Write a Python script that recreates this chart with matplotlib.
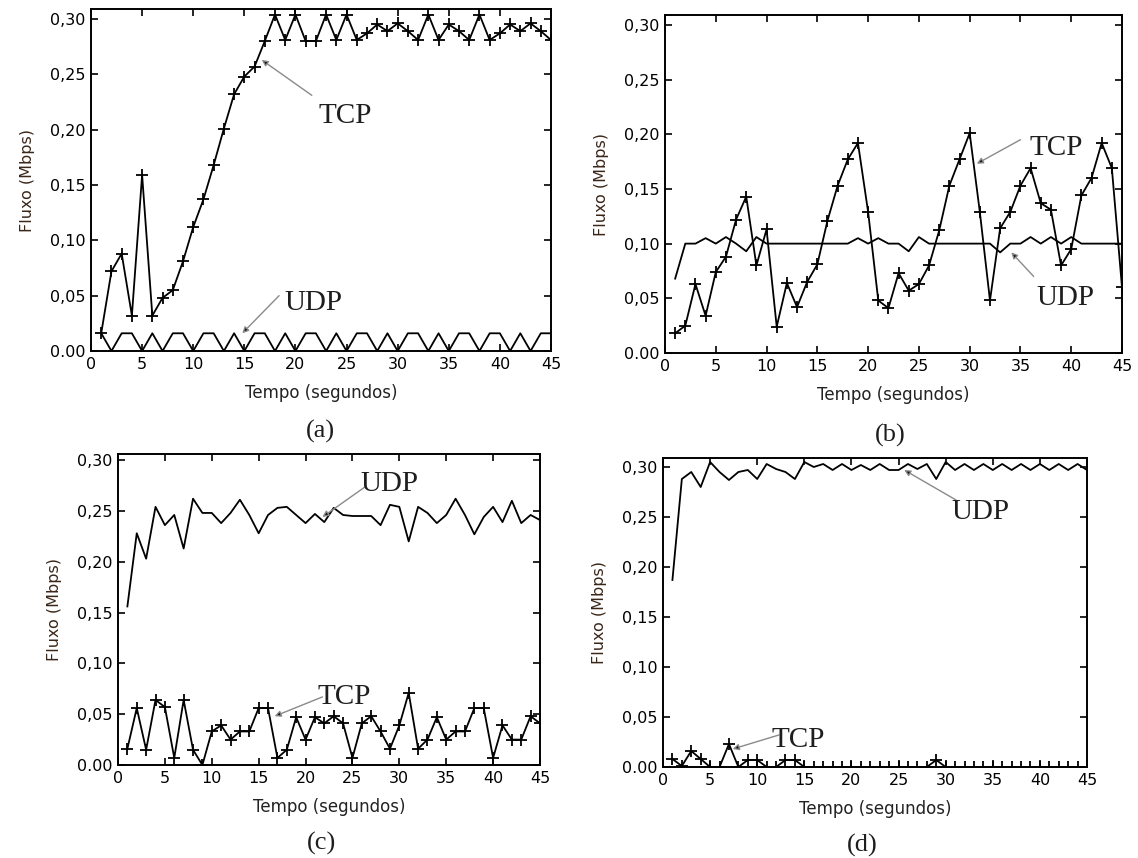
import matplotlib
matplotlib.use("Agg")
import matplotlib.pyplot as plt

# tempo (s)
tempo = list(range(1, 46))

# (a)
tcp_a = [0.016, 0.072, 0.088, 0.032, 0.159, 0.032, 0.048, 0.055, 0.081, 0.112,
         0.137, 0.168, 0.201, 0.232, 0.248, 0.257, 0.280, 0.304, 0.281, 0.304,
         0.280, 0.280, 0.304, 0.281, 0.304, 0.281, 0.287, 0.295, 0.289, 0.296,
         0.289, 0.281, 0.304, 0.281, 0.295, 0.289, 0.281, 0.304, 0.281, 0.287,
         0.295, 0.289, 0.296, 0.289, 0.281]
udp_a = [0.016, 0.0, 0.016, 0.016, 0.0, 0.016, 0.0, 0.016, 0.016, 0.0,
         0.016, 0.016, 0.0, 0.016, 0.0, 0.016, 0.016, 0.0, 0.016, 0.0,
         0.016, 0.016, 0.0, 0.016, 0.0, 0.016, 0.016, 0.0, 0.016, 0.0,
         0.016, 0.016, 0.0, 0.016, 0.0, 0.016, 0.016, 0.0, 0.016, 0.016,
         0.0, 0.016, 0.0, 0.016, 0.016]

# (b)
tcp_b = [0.018, 0.025, 0.063, 0.034, 0.074, 0.088, 0.122, 0.143, 0.080, 0.113,
         0.024, 0.064, 0.042, 0.065, 0.081, 0.121, 0.153, 0.177, 0.192, 0.129,
         0.048, 0.041, 0.073, 0.057, 0.063, 0.080, 0.112, 0.153, 0.177, 0.201,
         0.129, 0.048, 0.114, 0.129, 0.153, 0.169, 0.137, 0.131, 0.080, 0.095,
         0.144, 0.160, 0.192, 0.169, 0.060]
udp_b = [0.068, 0.100, 0.100, 0.105, 0.100, 0.106, 0.100, 0.093, 0.106, 0.100,
         0.100, 0.100, 0.100, 0.100, 0.100, 0.100, 0.100, 0.100, 0.105, 0.100,
         0.105, 0.100, 0.100, 0.093, 0.106, 0.100, 0.100, 0.100, 0.100, 0.100,
         0.100, 0.100, 0.092, 0.100, 0.100, 0.106, 0.100, 0.106, 0.100, 0.106,
         0.100, 0.100, 0.100, 0.100, 0.100]

# (c)
tcp_c = [0.016, 0.056, 0.015, 0.064, 0.057, 0.007, 0.064, 0.015, 0.000, 0.033,
         0.039, 0.025, 0.033, 0.033, 0.056, 0.056, 0.007, 0.015, 0.047, 0.025,
         0.047, 0.041, 0.048, 0.041, 0.007, 0.041, 0.048, 0.033, 0.016, 0.039,
         0.071, 0.016, 0.025, 0.047, 0.025, 0.033, 0.033, 0.056, 0.056, 0.007,
         0.039, 0.025, 0.025, 0.048, 0.041]
udp_c = [0.156, 0.228, 0.203, 0.254, 0.236, 0.246, 0.213, 0.262, 0.248, 0.248,
         0.238, 0.248, 0.261, 0.246, 0.228, 0.246, 0.253, 0.254, 0.246, 0.238,
         0.247, 0.239, 0.253, 0.246, 0.245, 0.245, 0.245, 0.236, 0.256, 0.254,
         0.220, 0.254, 0.248, 0.238, 0.246, 0.262, 0.246, 0.227, 0.244, 0.254,
         0.239, 0.260, 0.238, 0.246, 0.241]

# (d)
tcp_d = [0.008, 0.001, 0.016, 0.008, 0.0, 0.0, 0.023, 0.0, 0.007, 0.007,
         0.0, 0.0, 0.007, 0.007, 0.0, 0.0, 0.0, 0.0, 0.0, 0.0,
         0.0, 0.0, 0.0, 0.0, 0.0, 0.0, 0.0, 0.0, 0.007, 0.0,
         0.0, 0.0, 0.0, 0.0, 0.0, 0.0, 0.0, 0.0, 0.0, 0.0,
         0.0, 0.0, 0.0, 0.0, 0.0]
udp_d = [0.187, 0.288, 0.295, 0.280, 0.305, 0.295, 0.287, 0.295, 0.297, 0.288,
         0.303, 0.298, 0.295, 0.288, 0.305, 0.300, 0.303, 0.297, 0.303, 0.297,
         0.302, 0.297, 0.303, 0.297, 0.297, 0.303, 0.298, 0.303, 0.288, 0.305,
         0.297, 0.303, 0.297, 0.303, 0.297, 0.303, 0.297, 0.303, 0.297, 0.303,
         0.297, 0.303, 0.297, 0.303, 0.297]

yticks = [0.0, 0.05, 0.10, 0.15, 0.20, 0.25, 0.30]
ytick_labels = ["0.00", "0,05", "0,10", "0,15", "0,20", "0,25", "0,30"]
xticks = [0, 5, 10, 15, 20, 25, 30, 35, 40, 45]

W, H = 1138, 858
fig = plt.figure(figsize=(W / 100, H / 100), dpi=100)


def make_ax(left, right, top, bottom, ytop):
    ax = fig.add_axes([left / W, 1 - bottom / H, (right - left) / W, (bottom - top) / H])
    ax.set_xlim(0, 45)
    ax.set_ylim(0, ytop)
    ax.set_xticks(xticks)
    ax.set_yticks(yticks)
    ax.set_yticklabels(ytick_labels)
    ax.tick_params(direction="in", length=5, width=1.2, top=True, right=True,
                   labelsize=11.5, pad=4)
    for s in ax.spines.values():
        s.set_linewidth(1.4)
    ax.set_xlabel("Tempo (segundos)", fontsize=12, color="#222222", labelpad=9)
    ax.set_ylabel("Fluxo (Mbps)", fontsize=11.5, color="#3a2618", labelpad=11)
    return ax


def tag(ax, text, tx, ty, ax0, ay0, ax1, ay1):
    ax.annotate("", xy=(ax1, ay1), xytext=(ax0, ay0),
                arrowprops=dict(arrowstyle="-|>", edgecolor="#8a8a8a",
                                facecolor="#111111", lw=1.0,
                                mutation_scale=9, shrinkA=0, shrinkB=0))
    ax.text(tx, ty, text, ha="center", va="center", fontsize=21,
            family="Liberation Serif", color="#1e1e1e")


def curves(ax, tcp, udp):
    ax.plot(tempo, udp, color="black", lw=1.3)
    ax.plot(tempo, tcp, color="black", lw=1.3, marker="+", ms=8, mew=1.3)


ax_a = make_ax(91, 551, 9, 351, 0.309)
curves(ax_a, tcp_a, udp_a)
tag(ax_a, "TCP", 24.9, 0.212, 21.6, 0.231, 16.7, 0.263)
tag(ax_a, "UDP", 21.8, 0.043, 18.4, 0.050, 14.8, 0.016)

ax_b = make_ax(665, 1122, 15, 353, 0.309)
curves(ax_b, tcp_b, udp_b)
tag(ax_b, "TCP", 38.5, 0.187, 35.0, 0.195, 30.7, 0.173)
tag(ax_b, "UDP", 39.4, 0.050, 36.3, 0.070, 34.1, 0.092)

ax_c = make_ax(118, 540, 454, 765, 0.306)
curves(ax_c, tcp_c, udp_c)
tag(ax_c, "UDP", 28.9, 0.276, 26.4, 0.274, 21.8, 0.244)
tag(ax_c, "TCP", 24.1, 0.067, 21.8, 0.067, 16.7, 0.048)

ax_d = make_ax(663, 1087, 458, 767, 0.309)
curves(ax_d, tcp_d, udp_d)
tag(ax_d, "UDP", 33.7, 0.255, 31.1, 0.267, 25.6, 0.297)
tag(ax_d, "TCP", 14.4, 0.027, 12.3, 0.032, 7.4, 0.018)

for label, x, y in [("(a)", 320, 431), ("(b)", 890, 435), ("(c)", 322, 843), ("(d)", 862, 845)]:
    fig.text(x / W, 1 - y / H, label, ha="center", va="center", fontsize=19,
             family="Liberation Serif", color="#1e1e1e")

fig.savefig("out.png", dpi=100, facecolor="white")
